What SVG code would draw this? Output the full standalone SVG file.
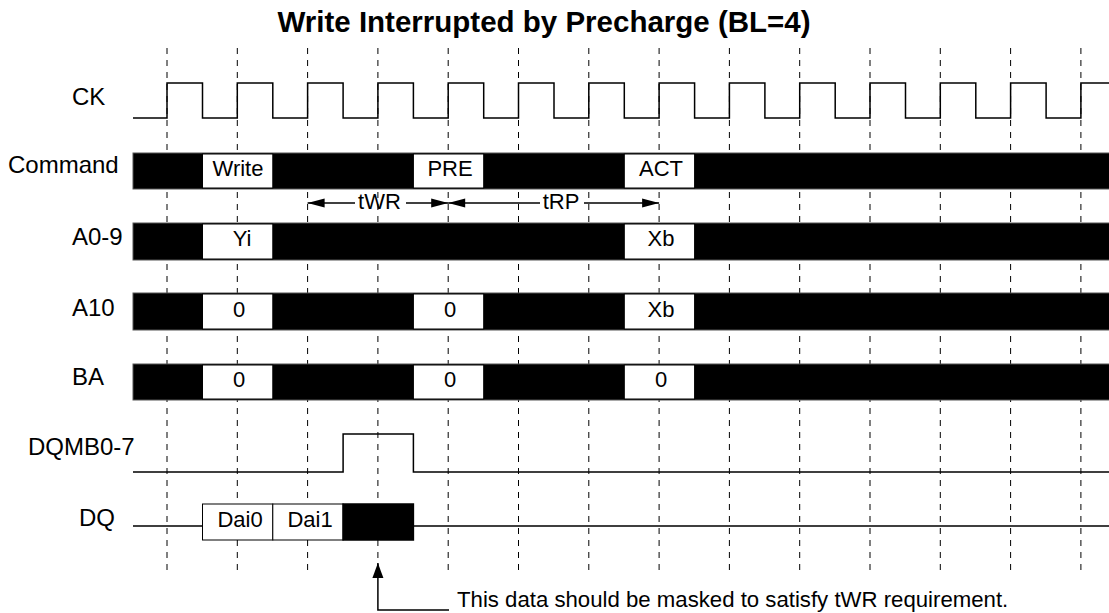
<svg xmlns="http://www.w3.org/2000/svg" width="1109" height="613" viewBox="0 0 1109 613">
<style>
text{font-family:"Liberation Sans",Arial,sans-serif;fill:#000}
.title{font-size:29.5px;font-weight:bold;text-anchor:middle}
.lbl{font-size:24px}
.val{font-size:22px;text-anchor:middle}
.note{font-size:22.2px}
.grid line{stroke:#000;stroke-width:1;stroke-dasharray:6 6}
.bar{fill:#000;stroke:#555;stroke-width:1}
.cell{fill:#fff;stroke:#000;stroke-width:1}
.wave{fill:none;stroke:#000;stroke-width:1.5}
.conn{fill:none;stroke:#000;stroke-width:1.5}
</style>
<defs>
<marker id="ah" markerUnits="userSpaceOnUse" markerWidth="18" markerHeight="11" refX="17" refY="5.5" orient="auto" overflow="visible"><path d="M0,1 L17,5.5 L0,10 z" fill="#000"/></marker>
<marker id="ah2" markerUnits="userSpaceOnUse" markerWidth="16" markerHeight="12" refX="15" refY="6" orient="auto" overflow="visible"><path d="M0,0.5 L15,6 L0,11.5 z" fill="#000"/></marker>
</defs>
<rect width="1109" height="613" fill="#fff"/>
<text class="title" x="544" y="32">Write Interrupted by Precharge (BL=4)</text>
<g id="grid" class="grid">
<line x1="167" y1="48" x2="167" y2="576"/>
<line x1="237.3" y1="48" x2="237.3" y2="576"/>
<line x1="307.6" y1="48" x2="307.6" y2="576"/>
<line x1="377.9" y1="48" x2="377.9" y2="576"/>
<line x1="448.2" y1="48" x2="448.2" y2="576"/>
<line x1="518.5" y1="48" x2="518.5" y2="576"/>
<line x1="588.8" y1="48" x2="588.8" y2="576"/>
<line x1="659.1" y1="48" x2="659.1" y2="576"/>
<line x1="729.4" y1="48" x2="729.4" y2="576"/>
<line x1="799.7" y1="48" x2="799.7" y2="576"/>
<line x1="870" y1="48" x2="870" y2="576"/>
<line x1="940.3" y1="48" x2="940.3" y2="576"/>
<line x1="1010.6" y1="48" x2="1010.6" y2="576"/>
<line x1="1080.9" y1="48" x2="1080.9" y2="576"/>
</g>
<g id="ck">
<text class="lbl" x="72" y="105">CK</text>
<path class="wave" d="M133,118 H167 V83 H202.5 V118 H237.3 V83 H272.8 V118 H307.6 V83 H343.1 V118 H377.9 V83 H413.4 V118 H448.2 V83 H483.7 V118 H518.5 V83 H554 V118 H588.8 V83 H624.3 V118 H659.1 V83 H694.6 V118 H729.4 V83 H764.9 V118 H799.7 V83 H835.2 V118 H870 V83 H905.5 V118 H940.3 V83 H975.8 V118 H1010.6 V83 H1046.1 V118 H1080.9 V83 H1110"/>
</g>
<g id="command">
<text class="lbl" x="8" y="173">Command</text>
<rect class="bar" x="133" y="153" width="977" height="36"/>
<rect class="cell" x="202.5" y="154" width="70.3" height="34"/>
<rect class="cell" x="413.4" y="154" width="70.3" height="34"/>
<rect class="cell" x="624.3" y="154" width="70.3" height="34"/>
<text class="val" x="238" y="176">Write</text>
<text class="val" x="450" y="176">PRE</text>
<text class="val" x="661" y="176">ACT</text>
</g>
<g id="a0-9">
<text class="lbl" x="72" y="245">A0-9</text>
<rect class="bar" x="133" y="223" width="977" height="37"/>
<rect class="cell" x="202.5" y="224" width="70.3" height="35"/>
<rect class="cell" x="624.3" y="224" width="70.3" height="35"/>
<text class="val" x="242" y="245.5">Yi</text>
<text class="val" x="661" y="245.5">Xb</text>
</g>
<g id="a10">
<text class="lbl" x="72" y="316">A10</text>
<rect class="bar" x="133" y="293" width="977" height="37"/>
<rect class="cell" x="202.5" y="294" width="70.3" height="35"/>
<rect class="cell" x="413.4" y="294" width="70.3" height="35"/>
<rect class="cell" x="624.3" y="294" width="70.3" height="35"/>
<text class="val" x="239" y="316.5">0</text>
<text class="val" x="450" y="316.5">0</text>
<text class="val" x="661" y="316.5">Xb</text>
</g>
<g id="ba">
<text class="lbl" x="72" y="385">BA</text>
<rect class="bar" x="133" y="364" width="977" height="36"/>
<rect class="cell" x="202.5" y="365" width="70.3" height="34"/>
<rect class="cell" x="413.4" y="365" width="70.3" height="34"/>
<rect class="cell" x="624.3" y="365" width="70.3" height="34"/>
<text class="val" x="239" y="386.5">0</text>
<text class="val" x="450" y="386.5">0</text>
<text class="val" x="661" y="386.5">0</text>
</g>
<g id="dqmb">
<text class="lbl" x="28" y="455">DQMB0-7</text>
<path class="wave" d="M133,472 H343.1 V434 H413.4 V472 H1110"/>
</g>
<g id="dq">
<text class="lbl" x="79" y="526">DQ</text>
<path class="wave" d="M133,526 H202.5 M413.4,526 H1110"/>
<rect class="cell" x="202.5" y="504" width="70.3" height="36" stroke-width="1.5"/>
<rect class="cell" x="272.8" y="504" width="70.3" height="36" stroke-width="1.5"/>
<rect x="343.1" y="504" width="70.3" height="36" fill="#000" stroke="#000" stroke-width="1.5"/>
<text class="val" x="240" y="527">Dai0</text>
<text class="val" x="310" y="527">Dai1</text>
</g>
<g id="connectors">
<line class="conn" x1="355" y1="203" x2="307.6" y2="203" marker-end="url(#ah)"/>
<line class="conn" x1="406" y1="203" x2="448.2" y2="203" marker-end="url(#ah)"/>
<line class="conn" x1="540" y1="203" x2="448.2" y2="203" marker-end="url(#ah)"/>
<line class="conn" x1="584" y1="203" x2="659.1" y2="203" marker-end="url(#ah)"/>
<path class="conn" d="M449,610 H377.9 V563" marker-end="url(#ah2)"/>
</g>
<text class="val" x="379.5" y="209">tWR</text>
<text class="val" x="561" y="209">tRP</text>
<text class="note" x="457" y="607">This data should be masked to satisfy tWR requirement.</text>
</svg>
